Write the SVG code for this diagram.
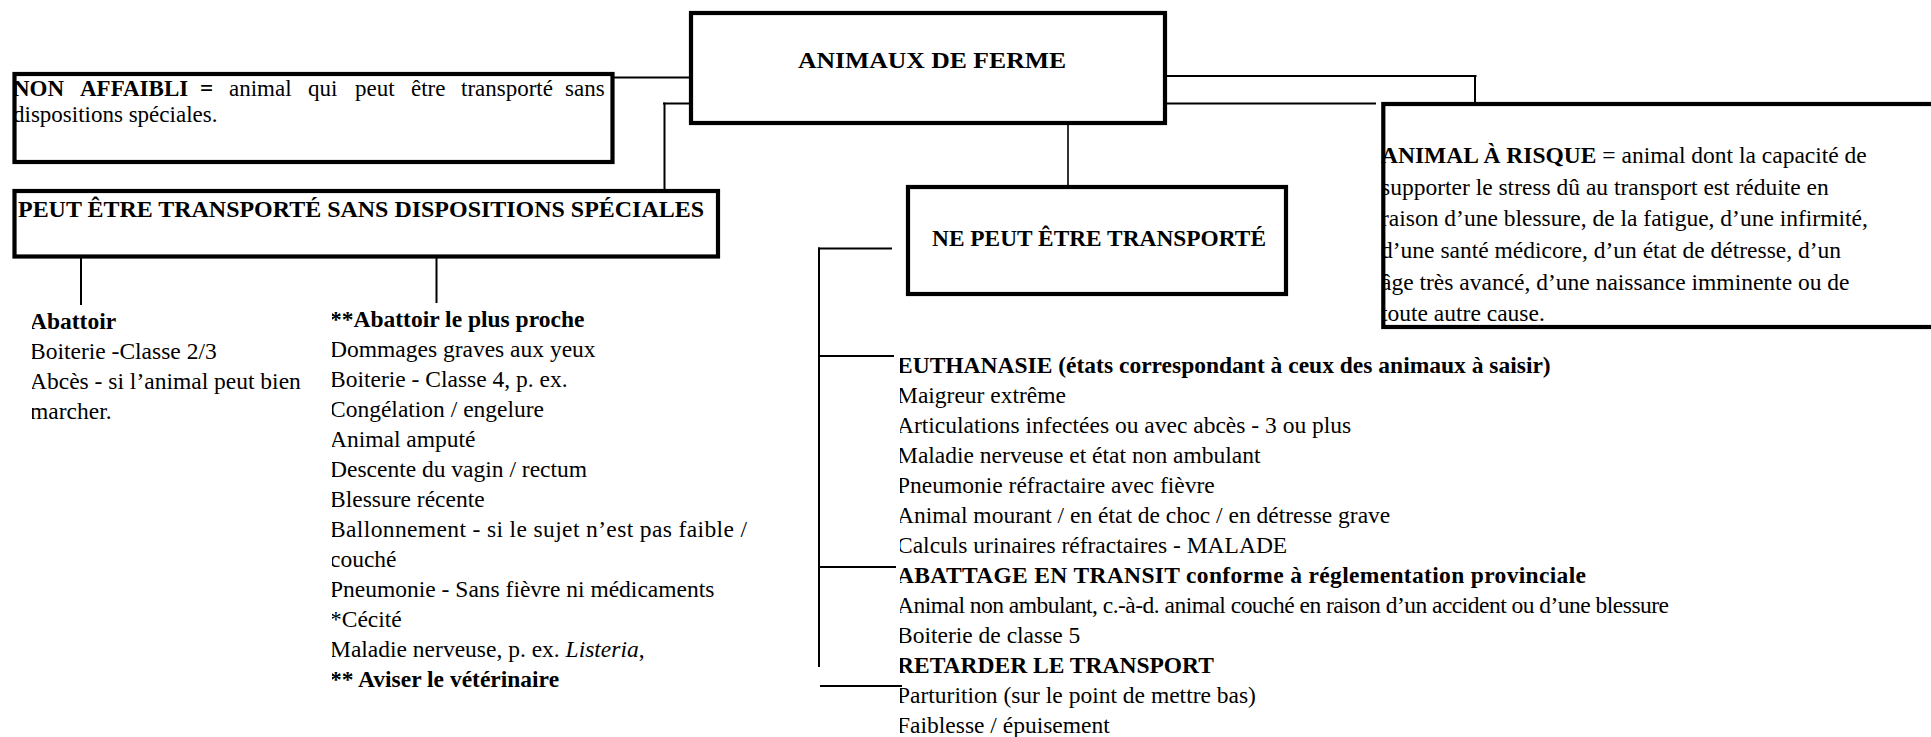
<svg xmlns="http://www.w3.org/2000/svg" width="1931" height="737" viewBox="0 0 1931 737">
<style>
.box{fill:none;stroke:#000;stroke-width:4.2}
.ln{fill:none;stroke:#000;stroke-width:2}
text{font-family:"Liberation Serif","Times New Roman",serif;font-size:23.5px;fill:#000}
.b{font-weight:bold}
.h{font-weight:bold;font-size:24px}
.s{font-size:23px}
</style>
<defs>
<clipPath id="cL"><rect x="32" y="300" width="280" height="140"/></clipPath>
<clipPath id="cR"><rect x="332" y="300" width="480" height="420"/></clipPath>
<clipPath id="cB"><rect x="900" y="340" width="1031" height="397"/></clipPath>
</defs>
<rect width="1931" height="737" fill="#fff"/>

<g id="connectors">
<line class="ln" x1="613" y1="77.5" x2="691" y2="77.5"/>
<polyline class="ln" points="664.5,189 664.5,103.5 691,103.5"/>
<line class="ln" x1="663" y1="103.5" x2="665" y2="103.5"/>
<polyline class="ln" points="1165,76 1476.5,76"/>
<line class="ln" x1="1475" y1="76" x2="1475" y2="104"/>
<line class="ln" x1="1165" y1="103.5" x2="1376" y2="103.5"/>
<line class="ln" x1="1068" y1="123" x2="1068" y2="185" style="stroke-width:1.6"/>
<line class="ln" x1="81" y1="257" x2="81" y2="305"/>
<line class="ln" x1="436.5" y1="255" x2="436.5" y2="303"/>
<line class="ln" x1="819" y1="247.5" x2="819" y2="667"/>
<line class="ln" x1="818" y1="248.5" x2="892" y2="248.5"/>
<line class="ln" x1="818" y1="356" x2="894" y2="356"/>
<line class="ln" x1="818" y1="567" x2="896" y2="567"/>
<line class="ln" x1="820" y1="686" x2="902" y2="686"/>
</g>

<g id="animaux">
<rect class="box" x="691" y="13" width="474" height="110"/>
<text class="h" x="798" y="68" textLength="268" lengthAdjust="spacingAndGlyphs">ANIMAUX DE FERME</text>
</g>

<g id="non-affaibli">
<text class="s" y="96"><tspan class="b" x="13">NON</tspan><tspan class="b" x="80">AFFAIBLI</tspan><tspan class="b" x="200">=</tspan><tspan x="229">animal</tspan><tspan x="308">qui</tspan><tspan x="355">peut</tspan><tspan x="411">être</tspan><tspan x="461">transporté</tspan><tspan x="565">sans</tspan></text>
<text class="s" x="13" y="122">dispositions spéciales.</text>
<rect class="box" x="14.5" y="74" width="598" height="88"/>
</g>

<g id="peut-etre">
<text class="h" x="18" y="217" textLength="686" lengthAdjust="spacingAndGlyphs">PEUT ÊTRE TRANSPORTÉ SANS DISPOSITIONS SPÉCIALES</text>
<rect class="box" x="14.5" y="191" width="703.5" height="65.5"/>
</g>

<g id="abattoir" clip-path="url(#cL)">
<text x="30" y="329" class="b">Abattoir</text>
<text x="30" y="359">Boiterie -Classe 2/3</text>
<text x="30" y="389">Abcès - si l’animal peut bien</text>
<text x="30" y="419">marcher.</text>
</g>

<g id="abattoir-proche" clip-path="url(#cR)">
<text x="330" y="327" class="b">**Abattoir le plus proche</text>
<text x="330" y="357">Dommages graves aux yeux</text>
<text x="330" y="387">Boiterie - Classe 4, p. ex.</text>
<text x="330" y="417">Congélation / engelure</text>
<text x="330" y="447">Animal amputé</text>
<text x="330" y="477">Descente du vagin / rectum</text>
<text x="330" y="507">Blessure récente</text>
<text x="330" y="537" textLength="417" lengthAdjust="spacing">Ballonnement - si le sujet n’est pas faible /</text>
<text x="330" y="567">couché</text>
<text x="330" y="597">Pneumonie - Sans fièvre ni médicaments</text>
<text x="330" y="627">*Cécité</text>
<text x="330" y="657">Maladie nerveuse, p. ex. <tspan font-style="italic">Listeria</tspan>,</text>
<text x="330" y="687" class="b">** Aviser le vétérinaire</text>
</g>

<g id="ne-peut">
<rect class="box" x="908" y="187" width="378" height="107"/>
<text class="h" x="932" y="246" textLength="334" lengthAdjust="spacingAndGlyphs" style="font-size:23px">NE PEUT ÊTRE TRANSPORTÉ</text>
</g>

<g id="ne-peut-list" clip-path="url(#cB)">
<text x="897" y="373" class="b">EUTHANASIE (états correspondant à ceux des animaux à saisir)</text>
<text x="897" y="403">Maigreur extrême</text>
<text x="897" y="433">Articulations infectées ou avec abcès - 3 ou plus</text>
<text x="897" y="463">Maladie nerveuse et état non ambulant</text>
<text x="897" y="493">Pneumonie réfractaire avec fièvre</text>
<text x="897" y="523">Animal mourant / en état de choc / en détresse grave</text>
<text x="897" y="553">Calculs urinaires réfractaires - MALADE</text>
<text x="897" y="583" class="b" textLength="689" lengthAdjust="spacing">ABATTAGE EN TRANSIT conforme à réglementation provinciale</text>
<text x="897" y="613" textLength="772" lengthAdjust="spacing">Animal non ambulant, c.-à-d. animal couché en raison d’un accident ou d’une blessure</text>
<text x="897" y="643">Boiterie de classe 5</text>
<text x="897" y="673" class="b">RETARDER LE TRANSPORT</text>
<text x="897" y="703">Parturition (sur le point de mettre bas)</text>
<text x="897" y="733">Faiblesse / épuisement</text>
</g>

<g id="animal-risque">
<text x="1381" y="163"><tspan class="b">ANIMAL À RISQUE</tspan> = animal dont la capacité de</text>
<text x="1381" y="195">supporter le stress dû au transport est réduite en</text>
<text x="1381" y="226">raison d’une blessure, de la fatigue, d’une infirmité,</text>
<text x="1381" y="258">d’une santé médicore, d’un état de détresse, d’un</text>
<text x="1381" y="290">âge très avancé, d’une naissance imminente ou de</text>
<text x="1381" y="321">toute autre cause.</text>
<rect class="box" x="1383.3" y="104" width="560" height="223"/>
</g>
</svg>
